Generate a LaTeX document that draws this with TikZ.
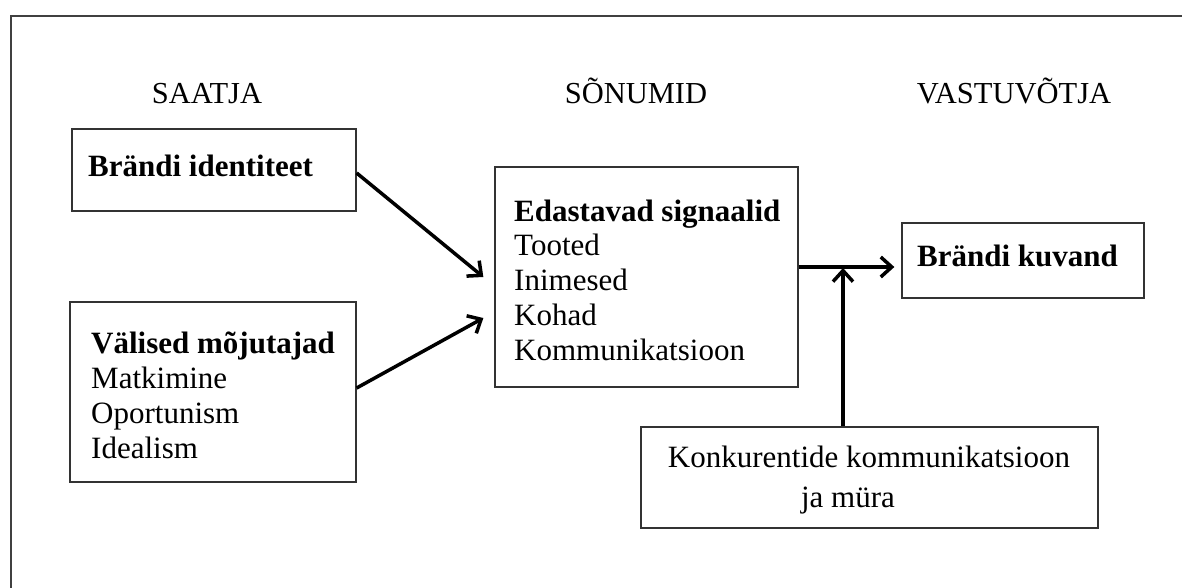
\documentclass[tikz,border=0pt]{standalone}
\usepackage{fontspec}
\setmainfont{Liberation Serif}
\usetikzlibrary{arrows.meta,calc}
\begin{document}
\begin{tikzpicture}[x=1pt,y=-1pt,
  boxstyle/.style={draw=black!80,line width=1.3pt,rectangle,inner sep=0pt},
  txt/.style={anchor=base west,inner sep=0pt,font=\fontsize{31}{35}\selectfont},
  head/.style={anchor=base,inner sep=0pt,font=\fontsize{30.5}{35}\selectfont},
  conn/.style={line width=3.5pt,-{Straight Barb[length=11pt,width=20pt,line width=3.5pt]}}]
\useasboundingbox (0,0) rectangle (1182,588);
% outer frame (top and left visible)
\draw[black!75,line width=1.3pt] (1182,16) -- (11,16) -- (11,588);
% headers
\node[head] (h1) at (207,104) {SAATJA};
\node[head] (h2) at (636,104) {SÕNUMID};
\node[head] (h3) at (1014,104) {VASTUVÕTJA};
% boxes
\node[boxstyle,minimum width=284pt,minimum height=82pt] (id) at (214,170) {};
\node[boxstyle,minimum width=286pt,minimum height=180pt] (val) at (213,392) {};
\node[boxstyle,minimum width=303pt,minimum height=220pt] (sig) at (646.5,277) {};
\node[boxstyle,minimum width=242pt,minimum height=75pt] (kuv) at (1023,260.5) {};
\node[boxstyle,minimum width=457pt,minimum height=101pt] (kon) at (869.5,477.5) {};
% texts
\node[txt] (tid) at (88,176) {\bfseries Brändi identiteet};
\node[txt] (tval1) at (91,353) {\bfseries Välised mõjutajad};
\node[txt] (tval2) at (91,388) {Matkimine};
\node[txt] (tval3) at (91,423) {Oportunism};
\node[txt] (tval4) at (91,458) {Idealism};
\node[txt] (tsig1) at (514,221) {\bfseries Edastavad signaalid};
\node[txt] (tsig2) at (514,255) {Tooted};
\node[txt] (tsig3) at (514,290) {Inimesed};
\node[txt] (tsig4) at (514,325) {Kohad};
\node[txt] (tsig5) at (514,360) {Kommunikatsioon};
\node[txt] (tkuv) at (917,266) {\bfseries Brändi kuvand};
\node[anchor=base,inner sep=0pt,font=\fontsize{31}{35}\selectfont] (tkon1) at (869,467) {Konkurentide kommunikatsioon};
\node[anchor=base,inner sep=0pt,font=\fontsize{31}{35}\selectfont] (tkon2) at (848,507) {ja müra};
% connector end points
\coordinate (e1) at ($(sig.west)+(-11,0)$);
\coordinate (s1) at (id.east |- 0,173);
\coordinate (t1) at (e1 |- 0,277);
\coordinate (s2) at (val.east |- 0,388);
\coordinate (t2) at (e1 |- 0,318);
\coordinate (s3) at (sig.east |- 0,267);
\coordinate (t3) at ($(kuv.west |- 0,267)+(-7,0)$);
\coordinate (s4) at (kon.north -| 843,0);
\coordinate (t4) at (843,268);
\draw[conn] (s1) -- (t1);
\draw[conn] (s2) -- (t2);
\draw[conn] (s3) -- (t3);
\draw[conn] (s4) -- (t4);
\end{tikzpicture}
\end{document}
